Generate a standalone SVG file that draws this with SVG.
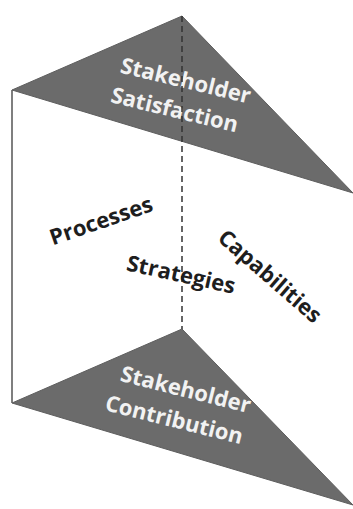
<svg xmlns="http://www.w3.org/2000/svg" width="353" height="509" viewBox="0 0 353 509">
<style>
.face{fill:#6b6b6b;stroke:#5e5e5e;stroke-width:1}
.edge{stroke:#555;stroke-width:1.5;fill:none}
.dash{stroke:#333;stroke-width:1.5;stroke-dasharray:6 4;fill:none}
.lt{font-family:"Open Sans","DejaVu Sans",sans-serif;font-weight:bold;font-size:22px;fill:#f2f2f2;text-anchor:middle}
.dk{font-family:"Open Sans","DejaVu Sans",sans-serif;font-weight:bold;font-size:22px;fill:#1e1e1e;text-anchor:middle}
</style>
<rect width="353" height="509" fill="#fff"/>
<g id="connectors">
<line class="edge" x1="12" y1="90" x2="12" y2="403"/>
</g>
<g id="top">
<polygon class="face" points="182,16 12,90 353,193"/>
<g transform="translate(184,88) rotate(13.5)">
<text class="lt" x="0" y="0">Stakeholder</text>
<text class="lt" x="-4" y="31">Satisfaction</text>
</g>
</g>
<g id="bottom">
<polygon class="face" points="182,329 12,403 353,505"/>
<g transform="translate(184,397) rotate(14)">
<text class="lt" x="0" y="0">Stakeholder</text>
<text class="lt" x="-4" y="32">Contribution</text>
</g>
</g>
<g id="spine">
<line class="dash" x1="182" y1="16" x2="182" y2="329"/>
</g>
<g id="processes"><text class="dk" transform="translate(103.5,228) rotate(-19)">Processes</text></g>
<g id="strategies"><text class="dk" transform="translate(179.5,282) rotate(12.4)">Strategies</text></g>
<g id="capabilities"><text class="dk" transform="translate(265,282) rotate(41)">Capabilities</text></g>
</svg>
